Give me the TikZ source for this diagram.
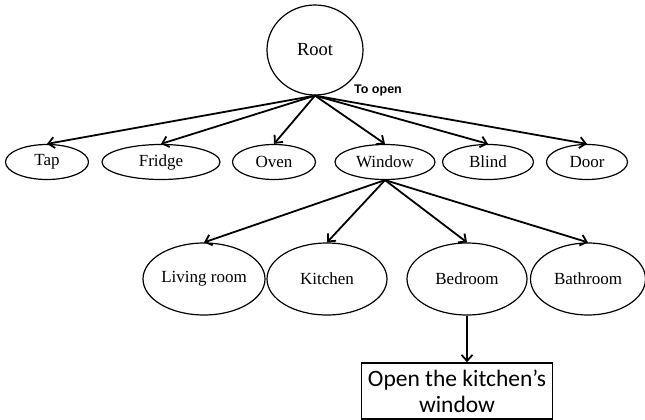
\documentclass[tikz,border=0pt]{standalone}
\usepackage{fontspec}
\setmainfont{Liberation Serif}
\newfontfamily\labelfont{Liberation Sans}
\newfontfamily\boxfont{Carlito}
\usetikzlibrary{shapes.geometric,arrows.meta}
\begin{document}
\begin{tikzpicture}[
  x=1pt, y=-1pt,
  item/.style={ellipse, draw, line width=1.2pt, inner sep=0pt,
               minimum height=35pt, font=\fontsize{17}{19}\selectfont},
  room/.style={item, minimum height=72pt},
  arr/.style={-{Straight Barb[length=6pt,width=11pt]}, line width=1.8pt}
]
\useasboundingbox (0,0) rectangle (645,420);
% Root
\node[item, minimum width=96pt, minimum height=90pt,
      font=\fontsize{18.5}{21}\selectfont] (root) at (315,50) {Root};
% Objects
\node[item, minimum width=83pt] (tap) at (47,162) {Tap};
\node[item, minimum width=118pt] (fridge) at (161,162) {Fridge};
\node[item, minimum width=83pt] (oven) at (274,162) {Oven};
\node[item, minimum width=100pt] (window) at (385,162) {Window};
\node[item, minimum width=91pt] (blind) at (488,162) {Blind};
\node[item, minimum width=81pt] (door) at (587,162) {Door};
% Rooms
\node[room, minimum width=122pt] (living) at (204,279) {Living room};
\node[room, minimum width=120pt] (kitchen) at (327,279) {Kitchen};
\node[room, minimum width=120pt] (bedroom) at (467,279) {Bedroom};
\node[room, minimum width=115pt] (bathroom) at (588,279) {Bathroom};
% Action
\node[draw, line width=1.6pt, minimum width=191pt, minimum height=56pt,
      inner sep=1pt, align=center, font=\boxfont\fontsize{23.5}{26}\selectfont]
      (action) at (457,391) {Open the kitchen’s\\window};

\node[font=\labelfont\bfseries\fontsize{12.5}{14}\selectfont] (toopen) at (378,90) {To open};

\foreach \n in {tap,fridge,oven,window,blind,door}
  \draw[arr] (root.south) -- (\n.north);
\foreach \n in {living,kitchen,bedroom,bathroom}
  \draw[arr] (window.south) -- (\n.north);
\draw[arr] (bedroom.south) -- (bedroom.south |- action.north);
\end{tikzpicture}
\end{document}
